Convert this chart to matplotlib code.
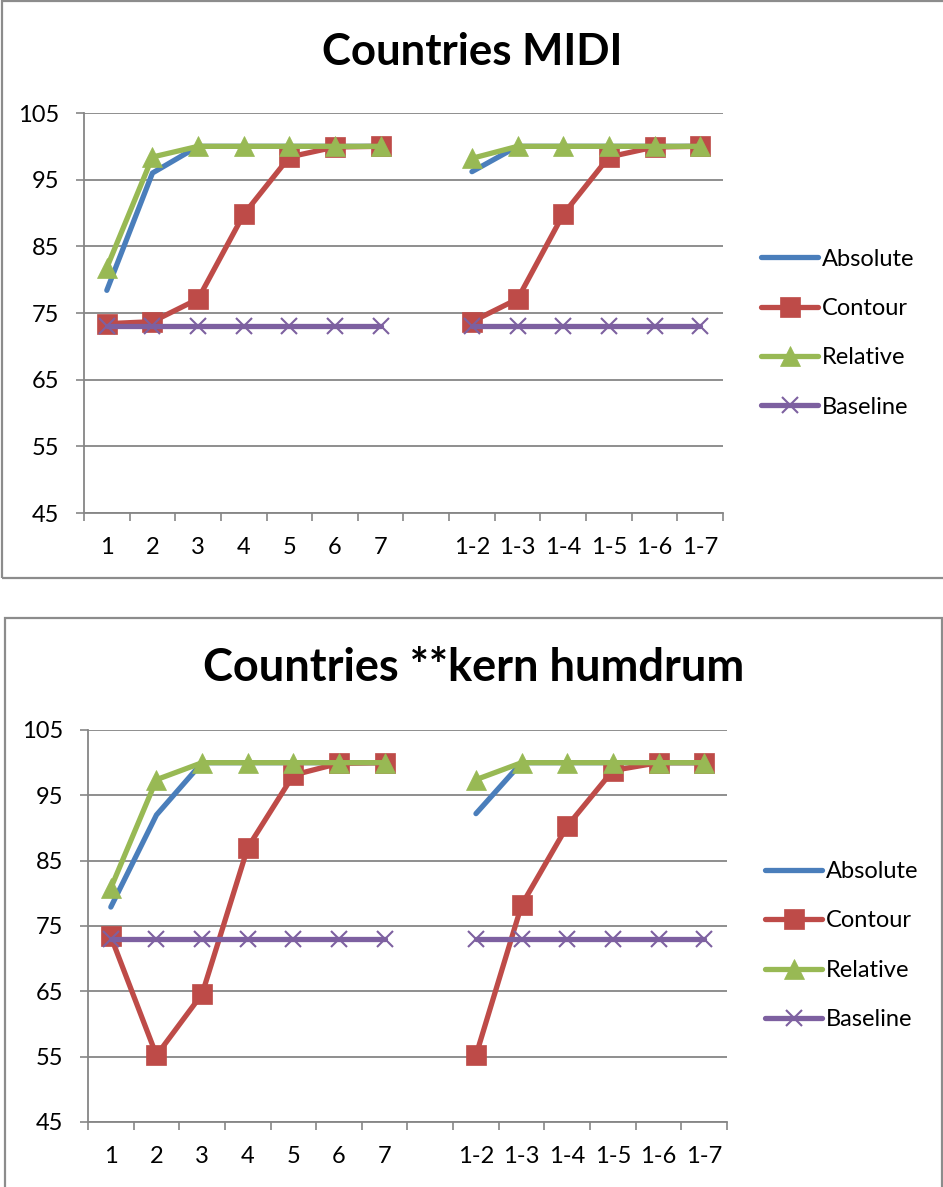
import numpy as np
import matplotlib.pyplot as plt
from matplotlib.patches import Rectangle

plt.rcParams['font.family'] = ['Lato', 'DejaVu Sans']

categories = ['1', '2', '3', '4', '5', '6', '7', '',
              '1-2', '1-3', '1-4', '1-5', '1-6', '1-7']
nan = np.nan

# top chart: Countries MIDI
midi_absolute = [78.4, 96, 100, 100, 100, 100, 100, nan, 96.2, 100, 100, 100, 100, 100]
midi_contour = [73.4, 73.7, 77.1, 89.8, 98.4, 99.9, 100, nan, 73.7, 77.1, 89.8, 98.4, 99.9, 100]
midi_relative = [81.8, 98.4, 100, 100, 100, 100, 100, nan, 98.2, 100, 100, 100, 100, 100]
midi_baseline = [73, 73, 73, 73, 73, 73, 73, nan, 73, 73, 73, 73, 73, 73]

# bottom chart: Countries **kern humdrum
kern_absolute = [77.9, 92, 100, 100, 100, 100, 100, nan, 92.2, 100, 100, 100, 100, 100]
kern_contour = [73.4, 55.2, 64.6, 87, 98.1, 99.9, 100, nan, 55.2, 78.2, 90.3, 98.8, 100, 100]
kern_relative = [80.8, 97.4, 100, 100, 100, 100, 100, nan, 97.4, 100, 100, 100, 100, 100]
kern_baseline = [73, 73, 73, 73, 73, 73, 73, nan, 73, 73, 73, 73, 73, 73]

names = ['Absolute', 'Contour', 'Relative', 'Baseline']
colors = ['#4A7EBB', '#BE4B48', '#98B954', '#7D60A0']
markers = [None, 's', '^', 'x']
msizes = [0, 14, 15, 12]

W, H = 943, 1187
fig = plt.figure(figsize=(W / 100, H / 100), dpi=100)

gray = '#868686'


def px_axes(x0, y0, x1, y1):
    return fig.add_axes([x0 / W, 1 - y1 / H, (x1 - x0) / W, (y1 - y0) / H])


def draw_chart(box, frame, title, title_xy, title_size, series):
    fig.patches.append(Rectangle((frame[0] / W, 1 - frame[3] / H),
                                 (frame[2] - frame[0]) / W, (frame[3] - frame[1]) / H,
                                 transform=fig.transFigure, fill=False,
                                 edgecolor='#8c8c8c', lw=1.6, zorder=0))
    fig.text(title_xy[0] / W, 1 - title_xy[1] / H, title, ha='center', va='center',
             fontsize=title_size, fontweight='bold')
    ax = px_axes(*box)
    x = np.arange(len(categories))
    for vals, name, c, m, ms in zip(series, names, colors, markers, msizes):
        ax.plot(x, vals, color=c, lw=3.8, marker=m, markersize=ms,
                markeredgewidth=1.5 if m == 'x' else 0.5, label=name,
                solid_capstyle='round', clip_on=False)
    ax.set_xlim(-0.5, len(categories) - 0.5)
    ax.set_ylim(45, 105)
    ax.set_yticks(np.arange(45, 106, 10))
    ax.grid(axis='y', color=gray, lw=1.3)
    ax.set_axisbelow(True)
    ax.set_xticks(np.arange(-0.5, len(categories), 1))
    ax.set_xticklabels([])
    ax.set_xticks(x, minor=True)
    ax.set_xticklabels(categories, minor=True)
    ax.tick_params(axis='x', which='major', length=6, color=gray, width=1.2)
    ax.tick_params(axis='x', which='minor', length=0, pad=17, labelsize=17)
    ax.tick_params(axis='y', length=6, color=gray, width=1.2, pad=12, labelsize=17)
    for s in ['top', 'right']:
        ax.spines[s].set_visible(False)
    for s in ['left', 'bottom']:
        ax.spines[s].set_color(gray)
        ax.spines[s].set_linewidth(1.3)
    ax.legend(loc='center left', bbox_to_anchor=(1.06, 0.45), frameon=False,
              fontsize=17, handlelength=2.4, handletextpad=0.15, labelspacing=1.2,
              borderpad=0, borderaxespad=0)
    return ax


draw_chart((84, 113, 723, 513), (2, 1, 948, 578), 'Countries MIDI', (472, 52), 31.5,
           [midi_absolute, midi_contour, midi_relative, midi_baseline])
draw_chart((88, 730, 727, 1122), (5, 618, 942, 1195), 'Countries **kern humdrum', (474, 668), 32.5,
           [kern_absolute, kern_contour, kern_relative, kern_baseline])

fig.savefig('out.png', dpi=100)
